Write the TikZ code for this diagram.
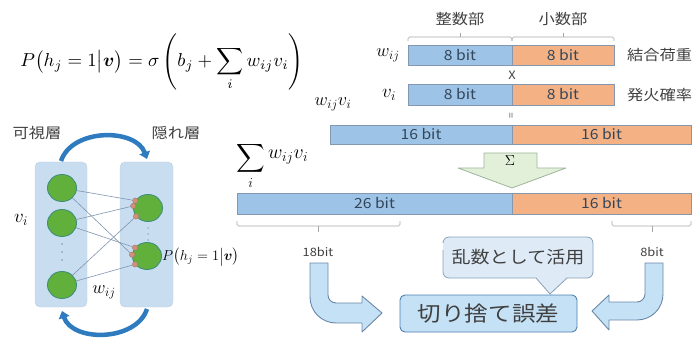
\documentclass[tikz,border=0pt]{standalone}
\usepackage{amsmath,bm,graphicx}
\usepackage[no-math]{fontspec}
\setmainfont[FakeStretch=1.12]{Noto Sans CJK JP}
\usetikzlibrary{arrows.meta,shapes.geometric}
\newcommand{\msz}[2]{\scalebox{#1}{$#2$}}
\definecolor{cblue}{HTML}{9DC3E6}
\definecolor{corange}{HTML}{F4B183}
\definecolor{cbord}{HTML}{8497B0}
\definecolor{ctext}{HTML}{404040}
\definecolor{cbar}{HTML}{34465A}
\definecolor{cpanel}{HTML}{C9DDF0}
\definecolor{cgreen}{HTML}{62B03C}
\definecolor{cgreenb}{HTML}{3F8F7A}
\definecolor{csyn}{HTML}{D0907A}
\definecolor{carc}{HTML}{2F7BBF}
\definecolor{cline}{HTML}{7F95AD}
\definecolor{clight}{HTML}{C4E1F6}
\definecolor{cpale}{HTML}{DEEBF7}
\definecolor{cdark}{HTML}{6A88A6}
\definecolor{cboxb}{HTML}{4F7FB0}
\definecolor{cgreenf}{HTML}{E2F0D9}
\definecolor{cgreenl}{HTML}{9DB59A}
\begin{document}
\begin{tikzpicture}[x=1pt,y=-1pt,
  bar/.style={draw=cbord,line width=0.7pt,inner sep=0,text=cbar,font=\fontsize{14}{15}\selectfont},
  lbl/.style={text=ctext,inner sep=1pt,font=\fontsize{14.5}{16}\selectfont},
  small/.style={text=ctext,inner sep=1pt,font=\fontsize{11.5}{13}\selectfont},
  mth/.style={inner sep=1pt,font=\fontsize{17.28}{20}\selectfont},
  brk/.style={draw=gray!70,line width=0.6pt,rounded corners=1.5pt},
  panel/.style={fill=cpanel,draw=cpanel!85!gray,rounded corners=5pt,line width=0.4pt},
  neuron/.style={ellipse,fill=cgreen,draw=cgreenb,line width=0.9pt,minimum width=29,minimum height=27,inner sep=0},
  syn/.style={circle,fill=csyn,draw=csyn!80!black,line width=0.3pt,minimum size=5.5,inner sep=0},
  wire/.style={draw=cline,line width=0.6pt},
  dotm/.style={circle,fill=cline,inner sep=0,minimum size=1.8},
  cyc/.style={draw=carc,line width=4.5pt,-{Triangle[length=7pt,width=11pt]}},
  barrow/.style={fill=clight,draw=cdark,line width=0.9pt,line join=round},
]
\useasboundingbox (0,0) rectangle (693,339);

% ---------- formula ----------
\node[inner sep=0] (formula) at (162,62) {\resizebox{283pt}{!}{$P\bigl(h_j=1\big|\bm{v}\bigr)=\sigma\left(b_j+\displaystyle\sum_i w_{ij}v_i\right)$}};

% ---------- left network ----------
\node[lbl] (vis) at (37,133) {可視層};
\node[lbl] (hid) at (176,133) {隠れ層};
\path[panel] (35,162) rectangle (87,307);
\path[panel] (120,162) rectangle (173,307);

\node[neuron] (v1) at (62,188) {};
\node[neuron] (v2) at (62,223) {};
\node[neuron] (v3) at (62,285) {};
\node[neuron] (h1) at (148,208) {};
\node[neuron] (h2) at (147,256) {};

\node[syn] (s11) at (h1.150) {};
\node[syn] (s12) at (h1.172) {};
\node[syn] (s13) at (h1.215) {};
\node[syn] (s21) at (h2.145) {};
\node[syn] (s22) at (h2.175) {};
\node[syn] (s23) at (h2.215) {};

\draw[wire] (v1) -- (s11);
\draw[wire] (v1) -- (s22);
\draw[wire] (v2) -- (s12);
\draw[wire] (v2) -- (s21);
\draw[wire] (v3) -- (s13);
\draw[wire] (v3) -- (s23);

\node[dotm] (vd1) at (62,244) {};
\node[dotm] (vd2) at (62,252) {};
\node[dotm] (vd3) at (62,260) {};
\node[dotm,minimum size=1.5] (hd1) at (148,228) {};
\node[dotm,minimum size=1.5] (hd2) at (148,234) {};
\node[dotm,minimum size=1.5] (hd3) at (148,240) {};

\draw[cyc] (61,161) .. controls (72,128) and (136,128) .. (147,159);
\draw[cyc] (147,309) .. controls (136,342) and (72,342) .. (62,311);

\node[mth] (vi) at (21,220) {\msz{1.1}{v_i}};
\node[mth] (wij) at (104,292) {\msz{1.05}{w_{ij}}};
\node[mth,anchor=west,font=\fontsize{14.4}{16}\selectfont] (ph) at (161,257) {$P\bigl(h_j=1\big|\bm{v}\bigr)$};

% ---------- bit bars ----------
\node[lbl] (seisu) at (460,19) {整数部};
\node[lbl] (shosu) at (563,19) {小数部};
\draw[brk] (408,41) -- (408,37) -- (512,37) -- (512,41);
\draw[brk] (460,37) -- (460,33);
\draw[brk] (512,41) -- (512,37) -- (614,37) -- (614,41);
\draw[brk] (563,37) -- (563,33);

\node[bar,fill=cblue,minimum width=104,minimum height=20] (wI) at (460,55) {8 bit};
\node[bar,fill=corange,minimum width=102,minimum height=20] (wF) at (563,55) {8 bit};
\node[mth] (wl) at (388,55) {\msz{1.05}{w_{ij}}};
\node[lbl,anchor=west] (ketsugo) at (626,55) {結合荷重};

\node[small] (times) at (512,75) {X};

\node[bar,fill=cblue,minimum width=104,minimum height=21] (vI) at (460,94.5) {8 bit};
\node[bar,fill=corange,minimum width=102,minimum height=21] (vF) at (563,94.5) {8 bit};
\node[mth] (vl) at (389,95) {\msz{1.1}{v_i}};
\node[lbl,anchor=west] (hakka) at (626,95) {発火確率};

\node[small,rotate=90,font=\fontsize{9}{9}\selectfont] (eq) at (512,116) {=};
\node[mth] (wvl) at (333,104) {\msz{1.05}{w_{ij}v_i}};

\node[bar,fill=cblue,minimum width=182,minimum height=19] (pI) at (421,134.5) {16 bit};
\node[bar,fill=corange,minimum width=179,minimum height=19] (pF) at (601.5,134.5) {16 bit};

% sigma arrow
\draw[fill=cgreenf,draw=cgreenl,line width=0.8pt,line join=round]
  (484,153) -- (537,153) -- (537,168) -- (566,168) -- (512,188) -- (458,168) -- (484,168) -- cycle;
\node[inner sep=0,font=\fontsize{14.4}{15}\selectfont] (sig) at (510,161) {$\Sigma$};

\node[mth,anchor=west] (suml) at (235,166) {\msz{1.15}{\displaystyle\sum_i \raisebox{5pt}{$w_{ij}v_i$}}};

\node[bar,fill=cblue,minimum width=275,minimum height=21] (sI) at (374.5,203.5) {26 bit};
\node[bar,fill=corange,minimum width=179,minimum height=21] (sF) at (601.5,203.5) {16 bit};

\draw[brk] (237,221) -- (237,226) -- (400,226) -- (400,221);
\draw[brk] (318,226) -- (318,232);
\draw[brk] (612,221) -- (612,226) -- (691,226) -- (691,221);
\draw[brk] (652,226) -- (652,232);

\node[small] (b18) at (318,252) {18bit};
\node[small] (b8) at (652,252) {8bit};

% callout
\draw[fill=cpale,draw=cdark!80,line width=0.8pt]
  (443,243) [rounded corners=6pt] -- (443,237) -- (593,237) -- (593,278) [sharp corners] -- (567,278) -- (550,294) -- (536,278) [rounded corners=6pt] -- (443,278) -- (443,250);
\node[text=ctext,inner sep=0,font=\fontsize{17}{19}\selectfont] (ransu) at (518,257) {乱数として活用};

% truncation box
\node[fill=clight,draw=cboxb,line width=0.9pt,rounded corners=5pt,minimum width=177,minimum height=37,inner sep=0,text=ctext,font=\fontsize{21}{23}\selectfont] (kiri) at (488.5,313.5) {切り捨て誤差};

% bent arrows
\draw[barrow] (310,263) -- (310,297) .. controls (310,311.4) and (321.6,323) .. (336,323)
  -- (362,323) -- (362,332) -- (382,313) -- (362,296) -- (362,303) -- (336,303)
  .. controls (331.6,303) and (328,299.4) .. (328,295) -- (328,263) -- cycle;
\draw[barrow] (663,263) -- (663,294) .. controls (663,308.4) and (651.4,320) .. (637,320)
  -- (609,320) -- (609,330) -- (592,311) -- (609,295) -- (609,302) -- (637,302)
  .. controls (641.4,302) and (645,298.4) .. (645,294) -- (645,263) -- cycle;
\end{tikzpicture}
\end{document}
